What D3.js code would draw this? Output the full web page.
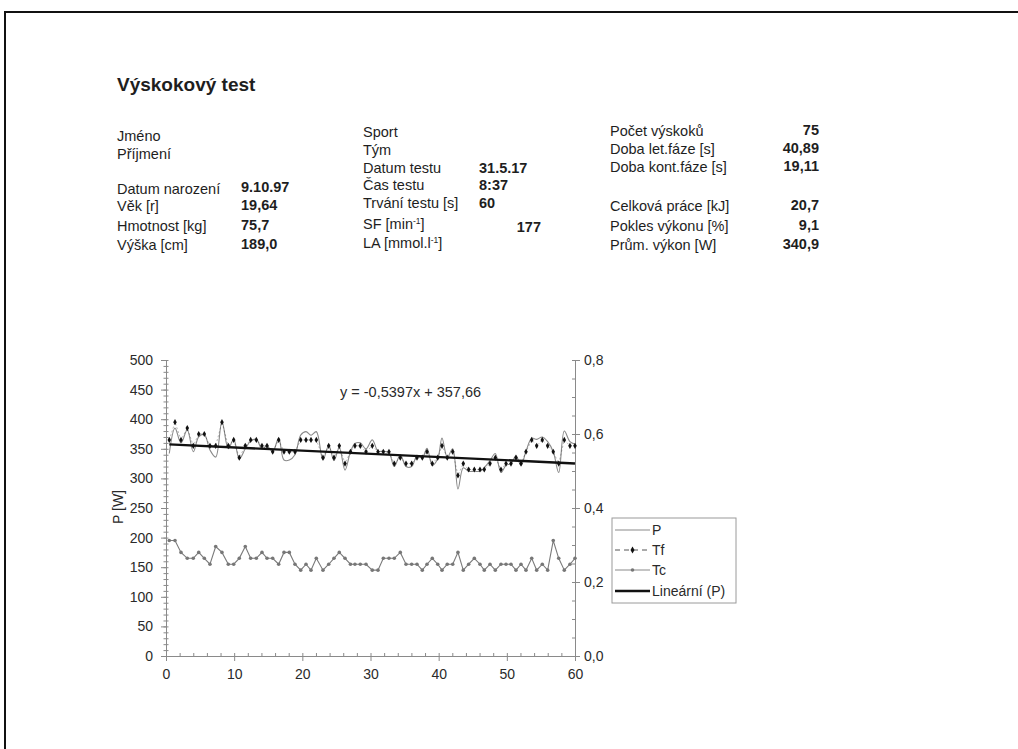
<!DOCTYPE html>
<html><head><meta charset="utf-8">
<script src="https://cdn.jsdelivr.net/npm/d3@7"></script>
<style>
html,body{margin:0;padding:0;background:#fff;}
svg{display:block;font-family:"Liberation Sans",Arial,sans-serif;}
</style></head>
<body>
<svg id="c" width="1018" height="749"></svg>
<script>
// ---------- data ----------
const title = "Výskokový test";
const col1Labels = ["Jméno","Příjmení","Datum narození","Věk [r]","Hmotnost [kg]","Výška [cm]"];
const col1Values = ["","","9.10.97","19,64","75,7","189,0"];
const col2Labels = ["Sport","Tým","Datum testu","Čas testu","Trvání testu [s]","SF [min","LA [mmol.l"];
const col2Values = ["","","31.5.17","8:37","60","177",""];
const col3Labels = ["Počet výskoků","Doba let.fáze [s]","Doba kont.fáze [s]","Celková práce [kJ]","Pokles výkonu [%]","Prům. výkon  [W]"];
const col3Values = ["75","40,89","19,11","20,7","9,1","340,9"];

// time of each jump [s]
const times = [0.48,1.32,2.20,3.12,4.00,4.80,5.62,6.45,7.29,8.21,9.14,9.93,10.75,11.63,12.42,13.25,14.08,14.82,15.65,16.53,
17.31,18.09,18.92,19.76,20.54,21.27,22.05,23.03,23.87,24.64,25.42,26.26,27.06,27.72,28.50,29.34,30.26,31.10,31.88,32.71,
33.49,34.37,35.21,36.04,36.82,37.60,38.29,39.06,39.86,40.49,41.26,42.06,42.83,43.61,44.40,45.23,46.06,46.69,47.53,48.31,
49.14,49.88,50.61,51.34,52.08,52.81,53.65,54.38,55.20,55.99,56.81,57.61,58.43,59.26,60.00];
// power per jump [W]
const powerP = [342,385,360,382,345,370,374,348,336,396,350,366,333,350,363,366,350,355,345,368,
331,331,340,373,379,373,379,331,356,330,352,314,345,359,360,350,365,346,346,343,
320,340,320,320,338,335,351,322,333,368,336,350,282,318,312,312,312,318,330,342,
310,322,325,338,322,346,368,366,370,362,345,310,380,362,358];
// flight time [s]
const flightTf = [0.584,0.632,0.584,0.616,0.568,0.600,0.600,0.568,0.568,0.632,0.568,0.584,0.536,0.568,0.584,0.584,0.568,0.568,0.552,0.584,
0.552,0.552,0.552,0.584,0.584,0.584,0.584,0.536,0.568,0.536,0.568,0.520,0.552,0.568,0.568,0.552,0.568,0.552,0.552,0.552,
0.520,0.536,0.520,0.520,0.536,0.536,0.552,0.520,0.536,0.568,0.536,0.552,0.488,0.520,0.504,0.504,0.504,0.504,0.520,0.536,
0.504,0.520,0.520,0.536,0.520,0.552,0.584,0.568,0.584,0.568,0.552,0.520,0.584,0.568,0.568];
// contact time [s]
const contactTc = [0.312,0.312,0.280,0.264,0.264,0.280,0.264,0.248,0.296,0.280,0.248,0.248,0.264,0.296,0.264,0.264,0.280,0.264,0.264,0.248,
0.280,0.280,0.248,0.232,0.248,0.232,0.264,0.232,0.248,0.264,0.280,0.264,0.248,0.248,0.248,0.248,0.232,0.232,0.264,0.264,
0.264,0.280,0.248,0.248,0.248,0.232,0.248,0.264,0.248,0.232,0.248,0.248,0.280,0.232,0.248,0.264,0.248,0.232,0.248,0.232,
0.248,0.248,0.248,0.232,0.248,0.232,0.264,0.232,0.248,0.232,0.312,0.264,0.232,0.248,0.264];
const trendSlope = -0.5397, trendIntercept = 357.66;
const trendLabel = "y = -0,5397x + 357,66";
const xTicks = [0,10,20,30,40,50,60];
const yLeftTicks = [0,50,100,150,200,250,300,350,400,450,500];
const yRightTicks = [0,0.2,0.4,0.6,0.8];
const legendLabels = ["P","Tf","Tc","Lineární (P)"];

// ---------- drawing ----------
const svg = d3.select("#c");
svg.append("rect").attr("width",1018).attr("height",749).attr("fill","#fff");
// scanned page frame
svg.append("path").attr("d","M5,749 V12 H1018").attr("fill","none").attr("stroke","#111").attr("stroke-width",2);

const txtCol = "#1e1e1e";
svg.append("text").attr("x",117).attr("y",91).attr("font-size",19).attr("font-weight","bold")
  .attr("fill",txtCol).text(title);

const fs = 14.5;
function row(x,y,label,opts={}){
  const t = svg.append("text").attr("x",x).attr("y",y).attr("font-size",fs).attr("fill",txtCol)
    .attr("font-weight",opts.bold?"bold":null).attr("text-anchor",opts.anchor||"start");
  t.text(label);
  return t;
}
const c1y = [141,158.5,193.5,211,231,250];
col1Labels.forEach((l,i)=>{ row(117,c1y[i],l); if(col1Values[i]) row(241,c1y[i]-1.5,col1Values[i],{bold:true}); });
const c2y = [137,154.5,173,190,208,229,248];
col2Labels.forEach((l,i)=>{
  const t = row(363,c2y[i],l);
  if(i===5||i===6){
    t.append("tspan").attr("dy",-5.5).attr("font-size",8.5).text("-1");
    t.append("tspan").attr("dy",5.5).text("]");
  }
});
row(479,173,col2Values[2],{bold:true});
row(479,189.5,col2Values[3],{bold:true});
row(479,208,col2Values[4],{bold:true});
row(541,232,col2Values[5],{bold:true,anchor:"end"});
const c3y = [136,154,172,211,231,250];
col3Labels.forEach((l,i)=>{ row(610,c3y[i],l); row(819,c3y[i]-1.5,col3Values[i],{bold:true,anchor:"end"}); });

// scales
const x = d3.scaleLinear().domain([0,60]).range([166,575]);
const yL = d3.scaleLinear().domain([0,500]).range([656,360]);
const yR = d3.scaleLinear().domain([0,0.8]).range([656,360]);
const axCol = "#8a8a8a", lblCol = "#2a2a2a";

function styleAxis(g){ g.selectAll("path,line").attr("stroke",axCol); g.selectAll("text").attr("fill",lblCol).attr("font-size",14).attr("font-family","Liberation Sans, Arial, sans-serif"); }

// left minor ticks (crossing)
svg.append("g").attr("transform","translate(168.5,0)")
  .call(d3.axisLeft(yL).tickValues(d3.range(0,501,10)).tickSize(5).tickFormat("")).call(styleAxis)
  .select(".domain").remove();
// left major
svg.append("g").attr("transform","translate(166,0)")
  .call(d3.axisLeft(yL).tickValues(yLeftTicks).tickSize(5).tickPadding(8).tickSizeOuter(0)).call(styleAxis);
// x minor
svg.append("g").attr("transform","translate(0,656)")
  .call(d3.axisBottom(x).tickValues(d3.range(0,61,2)).tickSize(-3).tickFormat("")).call(styleAxis)
  .select(".domain").remove();
// x major
svg.append("g").attr("transform","translate(0,656)")
  .call(d3.axisBottom(x).tickValues(xTicks).tickSize(5).tickPadding(8).tickSizeOuter(0)).call(styleAxis);
// right minor
svg.append("g").attr("transform","translate(575,0)")
  .call(d3.axisLeft(yR).tickValues(d3.range(0,0.801,0.05)).tickSize(3).tickFormat("")).call(styleAxis)
  .select(".domain").remove();
// right major
svg.append("g").attr("transform","translate(575,0)")
  .call(d3.axisRight(yR).tickValues(yRightTicks).tickSize(5).tickPadding(4).tickSizeOuter(0)
    .tickFormat(d=>d3.format(".1f")(d).replace(".",","))).call(styleAxis);

// y-axis title
svg.append("text").attr("transform","translate(123,507) rotate(-90)").attr("text-anchor","middle")
  .attr("font-size",14).attr("fill",lblCol).text("P [W]");

const data = times.map((t,i)=>({t,p:powerP[i],tf:flightTf[i],tc:contactTc[i]}));

// P smoothed line
svg.append("path").datum(data).attr("fill","none").attr("stroke","#8a8a8a").attr("stroke-width",1.1)
  .attr("d",d3.line().x(d=>x(d.t)).y(d=>yL(d.p)).curve(d3.curveCatmullRom.alpha(0.5)));
// Tf dashed line + markers
svg.append("path").datum(data).attr("fill","none").attr("stroke","#333").attr("stroke-width",0.7)
  .attr("stroke-dasharray","2,2").attr("opacity",0.5)
  .attr("d",d3.line().x(d=>x(d.t)).y(d=>yR(d.tf)));
svg.append("g").selectAll("path").data(data).join("path")
  .attr("d",d3.symbol(d3.symbolDiamond,11)).attr("fill","#111")
  .attr("transform",d=>`translate(${x(d.t)},${yR(d.tf)})`);
// Tc line + markers
svg.append("path").datum(data).attr("fill","none").attr("stroke","#7a7a7a").attr("stroke-width",1.1)
  .attr("d",d3.line().x(d=>x(d.t)).y(d=>yR(d.tc)));
svg.append("g").selectAll("circle").data(data).join("circle")
  .attr("cx",d=>x(d.t)).attr("cy",d=>yR(d.tc)).attr("r",1.8).attr("fill","#777");
// linear trend
const tMin = d3.min(times), tMax = d3.max(times);
svg.append("line").attr("x1",x(tMin)).attr("x2",x(tMax))
  .attr("y1",yL(trendSlope*tMin+trendIntercept)).attr("y2",yL(trendSlope*tMax+trendIntercept))
  .attr("stroke","#111").attr("stroke-width",2.4);
svg.append("text").attr("x",340).attr("y",397).attr("font-size",14.5).attr("fill",lblCol).text(trendLabel);

// legend
const lg = svg.append("g");
lg.append("rect").attr("x",612).attr("y",518).attr("width",124).attr("height",85)
  .attr("fill","#fff").attr("stroke","#9a9a9a").attr("stroke-width",1);
const ly = [530,550,570,591];
const lx1 = 615, lx2 = 650;
lg.append("line").attr("x1",lx1).attr("x2",lx2).attr("y1",ly[0]).attr("y2",ly[0]).attr("stroke","#8a8a8a").attr("stroke-width",1.1);
lg.append("line").attr("x1",lx1).attr("x2",lx2).attr("y1",ly[1]).attr("y2",ly[1]).attr("stroke","#555").attr("stroke-width",1).attr("stroke-dasharray","5,4");
lg.append("path").attr("d",d3.symbol(d3.symbolDiamond,14)).attr("fill","#111").attr("transform",`translate(${(lx1+lx2)/2},${ly[1]})`);
lg.append("line").attr("x1",lx1).attr("x2",lx2).attr("y1",ly[2]).attr("y2",ly[2]).attr("stroke","#8a8a8a").attr("stroke-width",1.1);
lg.append("circle").attr("cx",(lx1+lx2)/2).attr("cy",ly[2]).attr("r",1.8).attr("fill","#777");
lg.append("line").attr("x1",lx1).attr("x2",lx2).attr("y1",ly[3]).attr("y2",ly[3]).attr("stroke","#111").attr("stroke-width",2.4);
legendLabels.forEach((l,i)=>{
  lg.append("text").attr("x",lx2+2).attr("y",ly[i]+5).attr("font-size",14).attr("fill",lblCol).text(l);
});
</script>
</body></html>
